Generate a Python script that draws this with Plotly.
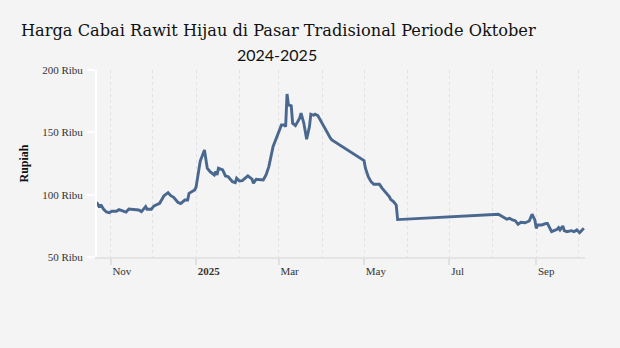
import plotly.graph_objects as go

dates = [
    "2024-10-22", "2024-10-24", "2024-10-25", "2024-10-27", "2024-10-29", "2024-10-31",
    "2024-11-02", "2024-11-05", "2024-11-07", "2024-11-09", "2024-11-12", "2024-11-14",
    "2024-11-17", "2024-11-21", "2024-11-23", "2024-11-26", "2024-11-27", "2024-11-30",
    "2024-12-02", "2024-12-04", "2024-12-06", "2024-12-09", "2024-12-12", "2024-12-14",
    "2024-12-16", "2024-12-19", "2024-12-21", "2024-12-24", "2024-12-26", "2024-12-27",
    "2024-12-31", "2025-01-01", "2025-01-03", "2025-01-04", "2025-01-07", "2025-01-09",
    "2025-01-11", "2025-01-14", "2025-01-15", "2025-01-16", "2025-01-17", "2025-01-20",
    "2025-01-22", "2025-01-24", "2025-01-27", "2025-01-29", "2025-01-30", "2025-02-01",
    "2025-02-03", "2025-02-05", "2025-02-07", "2025-02-10", "2025-02-11", "2025-02-13",
    "2025-02-18", "2025-02-20", "2025-02-22", "2025-02-25", "2025-02-26", "2025-03-01",
    "2025-03-03", "2025-03-05", "2025-03-06", "2025-03-07", "2025-03-08", "2025-03-10",
    "2025-03-11", "2025-03-13", "2025-03-16", "2025-03-17", "2025-03-19", "2025-03-21",
    "2025-03-23", "2025-03-24", "2025-03-26", "2025-03-27", "2025-03-29", "2025-04-07",
    "2025-04-08", "2025-05-01", "2025-05-02", "2025-05-04", "2025-05-06", "2025-05-08",
    "2025-05-12", "2025-05-14", "2025-05-15", "2025-05-17", "2025-05-19", "2025-05-20",
    "2025-05-22", "2025-05-24", "2025-05-25", "2025-08-05", "2025-08-07", "2025-08-09",
    "2025-08-11", "2025-08-13", "2025-08-15", "2025-08-17", "2025-08-19", "2025-08-21",
    "2025-08-24", "2025-08-27", "2025-08-29", "2025-08-31", "2025-09-01", "2025-09-02",
    "2025-09-05", "2025-09-08", "2025-09-09", "2025-09-12", "2025-09-14", "2025-09-16",
    "2025-09-17", "2025-09-18", "2025-09-20", "2025-09-21", "2025-09-23", "2025-09-26",
    "2025-09-28", "2025-09-30", "2025-10-02", "2025-10-05",
]

harga_ribu = [
    93.9, 89.9, 92.0, 88.3, 86.1, 85.6,
    86.7, 86.7, 88.0, 87.2, 86.1, 88.5,
    88.0, 87.7, 86.4, 90.4, 88.3, 88.3,
    91.0, 92.3, 93.1, 99.0, 101.6, 99.2,
    97.9, 93.9, 92.8, 95.7, 95.7, 101.1,
    103.8, 106.0, 120.0, 127.0, 135.9, 121.2,
    118.5, 115.8, 118.5, 115.8, 121.2, 119.8,
    115.0, 114.4, 110.4, 109.6, 113.2, 111.0,
    111.2, 113.2, 115.0, 112.4, 109.2, 112.4,
    111.8, 115.8, 122.5, 138.5, 141.2, 150.6,
    155.9, 155.9, 154.6, 180.8, 172.0, 171.2,
    157.3, 155.4, 161.3, 165.3, 157.3, 144.5,
    154.6, 164.5, 163.7, 164.5, 163.4, 145.3,
    143.9, 127.3, 121.2, 114.4, 110.4, 108.3,
    108.3, 105.1, 103.8, 101.1, 98.4, 96.3,
    94.4, 91.7, 80.0, 84.3, 82.9, 81.0,
    80.3, 81.0, 79.7, 79.1, 76.2, 77.8,
    77.5, 78.9, 84.3, 79.7, 73.0, 75.7,
    75.7, 77.0, 77.0, 70.3, 71.1, 72.2,
    73.5, 71.7, 74.9, 71.1, 70.3, 71.1,
    70.3, 71.7, 69.5, 73.0,
]

y_tick_values = [50, 100, 150, 200]
y_tick_labels = ["50 Ribu", "100 Ribu", "150 Ribu", "200 Ribu"]
x_tick_values = ["2024-11-01", "2025-01-01", "2025-03-01", "2025-05-01", "2025-07-01", "2025-09-01"]
x_tick_labels = ["Nov", "<b>2025</b>", "Mar", "May", "Jul", "Sep"]

title_line1 = "Harga Cabai Rawit Hijau di Pasar Tradisional Periode Oktober"
title_line2 = "2024-2025"
y_title = "Rupiah"

BG = "#f4f4f4"
LINE = "#4a6790"
GRID = "#e1e1e1"
SERIF = "Liberation Serif, Times New Roman, serif"

fig = go.Figure()
fig.add_trace(go.Scatter(
    x=dates, y=harga_ribu, mode="lines",
    line=dict(color=LINE, width=2.9),
    hoverinfo="skip", showlegend=False,
))

fig.update_layout(
    width=620, height=348,
    paper_bgcolor=BG, plot_bgcolor=BG,
    margin=dict(l=97, r=35, t=70, b=91),
    xaxis=dict(
        type="date",
        range=["2024-10-22 06:00", "2025-10-05 20:00"],
        tickvals=x_tick_values, ticktext=x_tick_labels,
        ticklabelposition="outside right", ticklabelstandoff=3,
        ticks="outside", ticklen=6, tickcolor="#e1e1e1", tickwidth=1.5,
        tickfont=dict(family=SERIF, size=11, color="#333333"),
        showgrid=True, gridcolor=GRID, griddash="dot", gridwidth=1.3,
        minor=dict(dtick="M1", tick0="2024-11-01", showgrid=True,
                   gridcolor=GRID, griddash="dot", gridwidth=1.3, ticks=""),
        showline=True, linecolor="#e4e4e4", linewidth=2,
        zeroline=False, fixedrange=True,
    ),
    yaxis=dict(
        range=[50, 200],
        tickvals=y_tick_values, ticktext=y_tick_labels,
        ticks="outside", ticklen=8, tickcolor="#ffffff", tickwidth=1.5,
        ticklabelstandoff=2,
        tickfont=dict(family=SERIF, size=11, color="#333333"),
        showgrid=False, zeroline=False,
        showline=True, linecolor="#ffffff", linewidth=2,
        fixedrange=True,
    ),
    annotations=[
        dict(text=title_line1, xref="paper", yref="paper",
             x=(278 - 97) / 488, y=1 + (70 - 30) / 187,
             xanchor="center", yanchor="middle", showarrow=False,
             font=dict(family="DejaVu Serif, serif", size=16.2, color="#111111")),
        dict(text=title_line2, xref="paper", yref="paper",
             x=(277 - 97) / 488, y=1 + (70 - 55) / 187,
             xanchor="center", yanchor="middle", showarrow=False,
             font=dict(family="Lato, sans-serif", size=16, color="#111111")),
        dict(text="<b>" + y_title + "</b>", xref="paper", yref="paper",
             x=(23 - 97) / 488, y=0.5, textangle=-90,
             xanchor="center", yanchor="middle", showarrow=False,
             font=dict(family=SERIF, size=12, color="#111111")),
    ],
)

fig.write_html("out.html")
